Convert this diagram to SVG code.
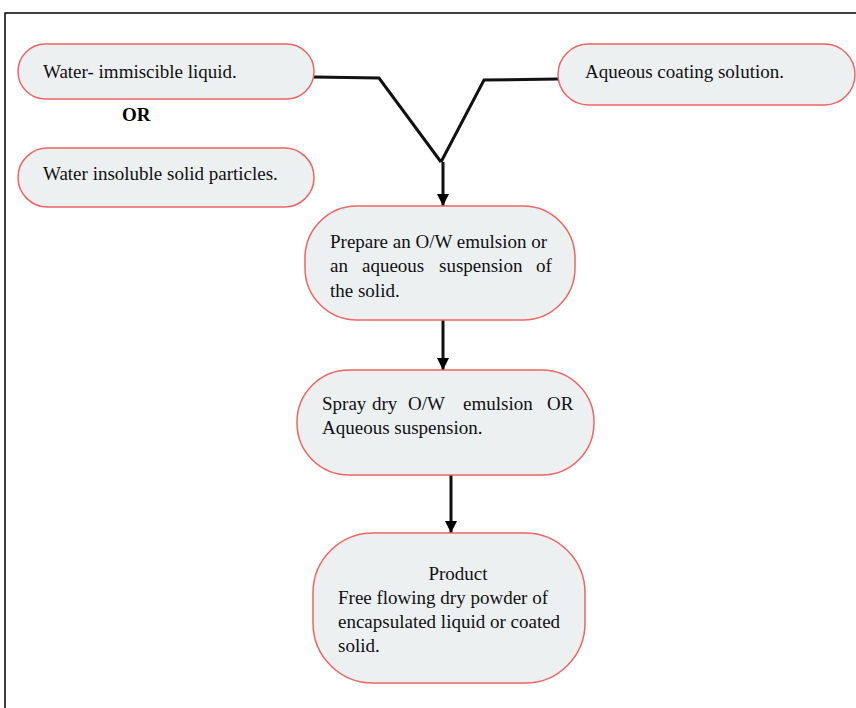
<svg xmlns="http://www.w3.org/2000/svg" width="856" height="708" viewBox="0 0 856 708">
<defs>
<style>
.n{fill:#ECF0F1;stroke:#F06464;stroke-width:1.5}
.t{font-family:"Liberation Serif",serif;font-size:19px;fill:#111}
.c{fill:none;stroke:#111;stroke-width:3}
</style>
<marker id="a" markerWidth="12" markerHeight="14" refX="12" refY="6" orient="auto" markerUnits="userSpaceOnUse">
<path d="M0,0 L12,6 L0,12 Z" fill="#000"/>
</marker>
</defs>
<rect width="856" height="708" fill="#fff"/>
<path d="M5,708 L5,13 L856,13" fill="none" stroke="#000" stroke-width="1.5"/>
<g id="connectors">
<path class="c" d="M314,77 L379,78 L441,162" stroke="#333"/>
<path class="c" d="M558,79 L484,80 L441,162"/>
<path class="c" d="M443,162 L443,206" marker-end="url(#a)"/>
<path class="c" d="M443,320 L443,370" marker-end="url(#a)"/>
<path class="c" d="M451,475 L451,533" marker-end="url(#a)"/>
</g>
<g id="n1">
<rect class="n" x="18" y="44" width="296" height="55" rx="27.5"/>
<text class="t" x="43" y="78">Water- immiscible liquid.</text>
</g>
<g id="or">
<text x="122" y="121" font-family="Liberation Serif,serif" font-size="19" font-weight="bold">OR</text>
</g>
<g id="n2">
<rect class="n" x="18" y="148" width="296" height="59" rx="29.5"/>
<text class="t" x="43" y="180">Water insoluble solid particles.</text>
</g>
<g id="n3">
<rect class="n" x="558" y="44" width="297" height="61" rx="30.5"/>
<text class="t" x="585" y="78">Aqueous coating solution.</text>
</g>
<g id="n4">
<rect class="n" x="305" y="206" width="270" height="114" rx="52"/>
<text class="t" x="330" y="248">Prepare an O/W emulsion or</text>
<text class="t" y="272"><tspan x="330">an</tspan> <tspan x="362">aqueous</tspan> <tspan x="439">suspension</tspan> <tspan x="536">of</tspan></text>
<text class="t" x="330" y="297">the solid.</text>
</g>
<g id="n5">
<rect class="n" x="297" y="370" width="297" height="105" rx="52"/>
<text class="t" y="410"><tspan x="322">Spray</tspan> <tspan x="372">dry</tspan> <tspan x="408">O/W</tspan> <tspan x="463">emulsion</tspan> <tspan x="547">OR</tspan></text>
<text class="t" x="322" y="434">Aqueous suspension.</text>
</g>
<g id="n6">
<rect class="n" x="313" y="533" width="272" height="150" rx="60"/>
<text class="t" x="458" y="580" text-anchor="middle">Product</text>
<text class="t" x="338" y="604">Free flowing dry powder of</text>
<text class="t" x="338" y="628">encapsulated liquid or coated</text>
<text class="t" x="338" y="652">solid.</text>
</g>
</svg>
